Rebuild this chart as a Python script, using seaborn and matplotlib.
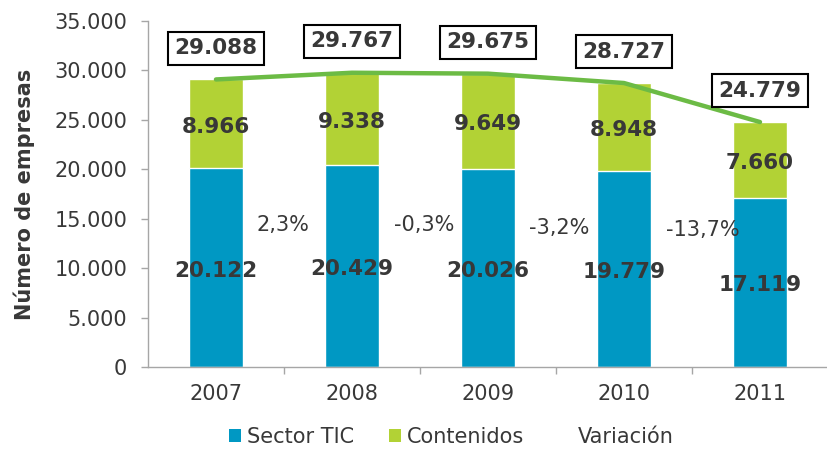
import numpy as np
import pandas as pd
import matplotlib
matplotlib.use("Agg")
import matplotlib.pyplot as plt
import seaborn as sns
from matplotlib.patches import Patch
from matplotlib.lines import Line2D
from matplotlib.ticker import FixedLocator, FuncFormatter

years = ["2007", "2008", "2009", "2010", "2011"]
sector_tic = [20122, 20429, 20026, 19779, 17119]
contenidos = [8966, 9338, 9649, 8948, 7660]
totales = [29088, 29767, 29675, 28727, 24779]
variacion = ["2,3%", "-0,3%", "-3,2%", "-13,7%"]
var_x = [0.49, 1.53, 2.52, 3.58]
var_y = [14350, 14350, 14050, 13850]

BLUE = "#0098C3"
GREEN = "#B2D235"
LINE = "#6CBB45"
TXT = "#383838"
AX = "#a6a6a6"

sns.set_theme(style="white")
plt.rcParams["font.family"] = ["DejaVu Sans"]

df = pd.DataFrame({"year": years, "tic": sector_tic, "cont": contenidos, "total": totales})

fig = plt.figure(figsize=(8.28, 4.49), dpi=100)
ax = fig.add_axes([0.1787, 0.1826, 0.8213, 0.7706])

sns.barplot(data=df, x="year", y="total", color=GREEN, saturation=1, width=0.40, ax=ax)
sns.barplot(data=df, x="year", y="tic", color=BLUE, saturation=1, width=0.40, ax=ax)
sns.lineplot(x=np.arange(len(years)), y=totales, color=LINE, linewidth=3.2, ax=ax)

ax.set_xlim(-0.5, 4.5)
ax.set_ylim(0, 35000)
ax.set_xlabel("")
ax.set_ylabel("Número de empresas", fontsize=15, fontweight="bold", color=TXT, labelpad=14)

ax.yaxis.set_major_locator(FixedLocator(np.arange(0, 35001, 5000)))
ax.yaxis.set_major_formatter(FuncFormatter(lambda v, p: f"{int(v):,}".replace(",", ".")))
ax.tick_params(axis="y", which="major", left=True, length=5, width=1, color=AX,
               labelsize=15, labelcolor=TXT, pad=10)
ax.set_xticks(range(len(years)))
ax.set_xticklabels(years)
ax.tick_params(axis="x", which="major", bottom=True, length=0, labelsize=15,
               labelcolor=TXT, pad=12)
ax.xaxis.set_minor_locator(FixedLocator(np.arange(0.5, 4.0, 1.0)))
ax.tick_params(axis="x", which="minor", bottom=True, length=5, width=1, color=AX)

for s in ["top", "right"]:
    ax.spines[s].set_visible(False)
for s in ["left", "bottom"]:
    ax.spines[s].set_color(AX)
    ax.spines[s].set_linewidth(1)

for i in range(len(years)):
    ax.annotate(f"{sector_tic[i]:,}".replace(",", "."), xy=(i, sector_tic[i] / 2),
                xytext=(0, -2.2), textcoords="offset points", ha="center", va="center",
                fontsize=15.5, fontweight="bold", color=TXT)
    ax.annotate(f"{contenidos[i]:,}".replace(",", "."),
                xy=(i, sector_tic[i] + contenidos[i] / 2), xytext=(0, -2.2),
                textcoords="offset points", ha="center", va="center",
                fontsize=15.5, fontweight="bold", color=TXT)
    ax.annotate(f"{totales[i]:,}".replace(",", "."), xy=(i, totales[i]), xytext=(0, 22.5),
                textcoords="offset points", ha="center", va="center", fontsize=15.5,
                fontweight="bold", color=TXT,
                bbox=dict(boxstyle="square,pad=0.3", fc="white", ec="black", lw=1.5),
                annotation_clip=False)

for x, y, t in zip(var_x, var_y, variacion):
    ax.text(x, y, t, ha="center", va="center", fontsize=15, color=TXT)

handles = [Patch(facecolor=BLUE, edgecolor="none"),
           Patch(facecolor=GREEN, edgecolor="none"),
           Line2D([], [], color="none")]
fig.legend(handles, ["Sector TIC", "Contenidos", "Variación"], loc="center",
           bbox_to_anchor=(0.545, 0.027), ncol=3, frameon=False, fontsize=15,
           handlelength=0.55, handleheight=0.55, handletextpad=0.3, columnspacing=1.7,
           labelcolor=TXT)

fig.savefig("out.png", dpi=100)
